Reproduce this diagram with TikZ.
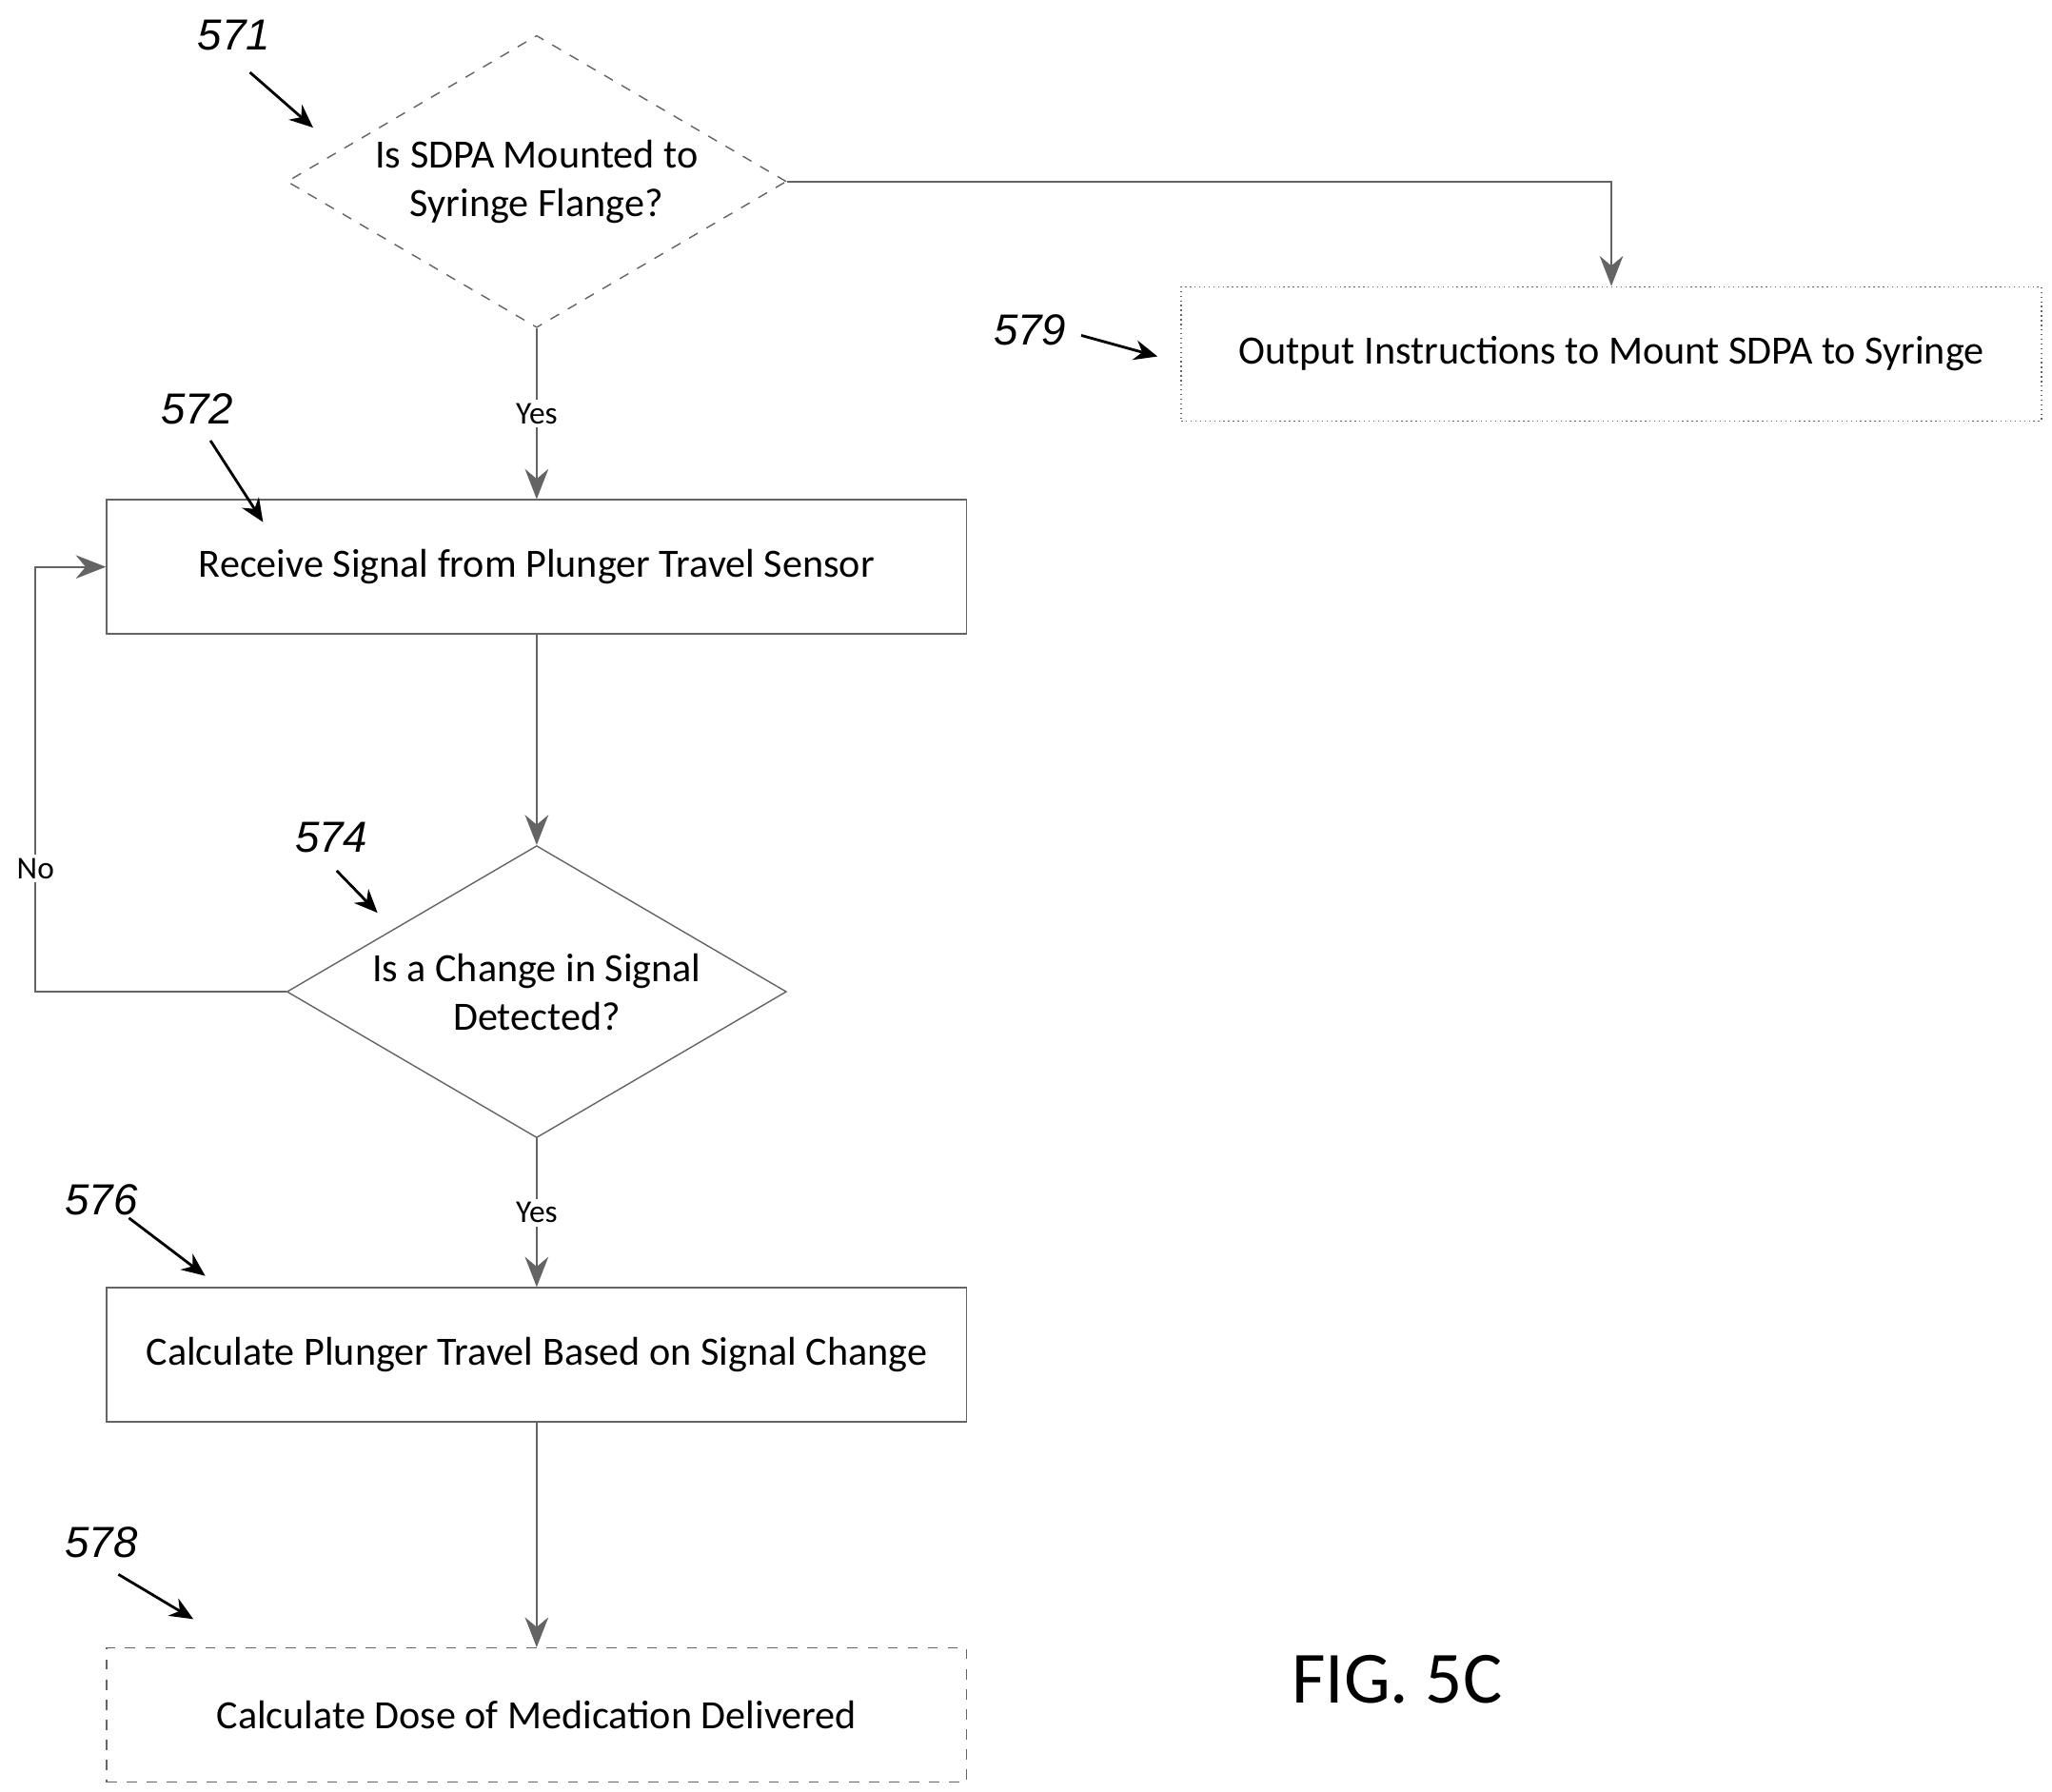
\documentclass[tikz,border=0pt]{standalone}
\usepackage{fontspec}
\setmainfont{Carlito}
\newfontfamily\reffont{Liberation Sans}
\usetikzlibrary{arrows.meta,shapes.geometric}

\definecolor{fc_line}{RGB}{100,100,100}

\tikzset{
  process/.style={draw=fc_line,thin,minimum width=9.04cm,minimum height=1.41cm,inner sep=0pt,font=\fontsize{12}{14}\selectfont},
  test/.style={diamond,draw=fc_line,thin,aspect=1.71,minimum width=5.25cm,minimum height=3.07cm,inner sep=0pt,align=center,font=\fontsize{12}{14.5}\selectfont},
  flow/.style={draw=fc_line,semithick,-{Stealth[length=9pt,width=7pt]}},
  refnum/.style={font=\reffont\itshape\fontsize{13}{15}\selectfont},
  refarr/.style={draw=black,thick,-{Stealth[length=7pt,width=6pt]}},
  tag/.style={fill=white,inner sep=1pt,font=\fontsize{9.5}{11}\selectfont}
}

\begin{document}
\begin{tikzpicture}[x=0.01382cm,y=-0.01382cm]
\useasboundingbox (0,0) rectangle (1560,1362);

% decisions and steps
\node[test,dashed] (mounted) at (408,138) {Is SDPA Mounted to\\Syringe Flange?};
\node[process,densely dotted] (instruct) at (1225,269) {Output Instructions to Mount SDPA to Syringe};
\node[process] (receive) at (408,431) {Receive Signal from Plunger Travel Sensor};
\node[test] (change) at (408,754) {Is a Change in Signal\\Detected?};
\node[process] (travel) at (408,1030) {Calculate Plunger Travel Based on Signal Change};
\node[process,dashed] (dose) at (408,1304) {Calculate Dose of Medication Delivered};

\coordinate (corner) at (1225,138);
\coordinate (loopa) at (27,754);
\coordinate (loopb) at (27,431);

% connectors
\draw[flow] (mounted.east) -- (corner) -- (instruct.north);
\draw[flow] (mounted.south) -- node[tag] {Yes} (receive.north);
\draw[flow] (receive.south) -- (change.north);
\draw[flow] (change.west) -- (loopa) -- node[pos=0.29,tag] {No} (loopb) -- (receive.west);
\draw[flow] (change.south) -- node[tag] {Yes} (travel.north);
\draw[flow] (travel.south) -- (dose.north);

% reference numerals
\node[refnum] (n571) at (178,27) {571};
\draw[refarr] (190,55) -- (238,97);
\node[refnum] (n572) at (150,311) {572};
\draw[refarr] (160,335) -- (200,397);
\node[refnum] (n574) at (252,637) {574};
\draw[refarr] (256,662) -- (287,694);
\node[refnum] (n576) at (77,912) {576};
\draw[refarr] (98,926) -- (156,970);
\node[refnum] (n578) at (77,1173) {578};
\draw[refarr] (90,1197) -- (147,1231);
\node[refnum] (n579) at (783,251) {579};
\draw[refarr] (822,255) -- (880,271);

\node[font=\fontsize{22}{26}\selectfont] (fig) at (1062,1277) {FIG. 5C};
\end{tikzpicture}
\end{document}
